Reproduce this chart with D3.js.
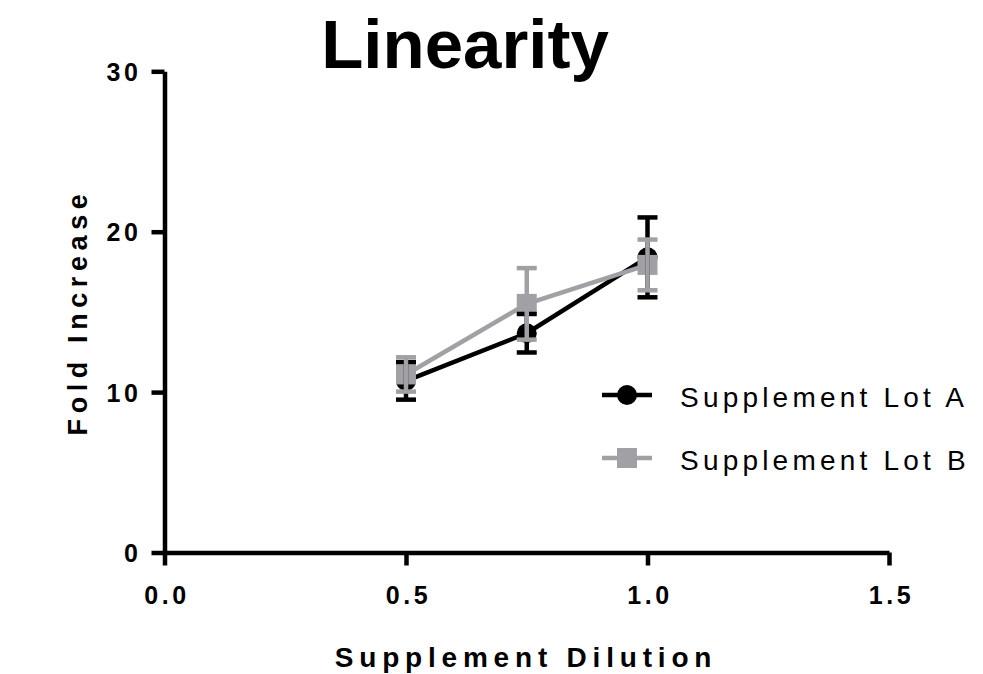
<!DOCTYPE html>
<html>
<head>
<meta charset="utf-8">
<script src="https://cdn.jsdelivr.net/npm/d3@7"></script>
<style>
  body { margin: 0; background: #fff; }
  text { font-family: "Liberation Sans", Arial, sans-serif; }
</style>
</head>
<body>
<div id="chart"></div>
<script>
// data
var dilutions = [0.5, 0.75, 1.0];
var lotA = [10.7, 13.67, 18.4];
var lotAErr = [1.17, 1.2, 2.49];
var lotB = [11.1, 15.5, 17.93];
var lotBErr = [1.07, 2.23, 1.58];
var seriesNames = ["Supplement Lot A", "Supplement Lot B"];
var xTicks = [0, 0.5, 1.0, 1.5];
var yTicks = [0, 10, 20, 30];

var W = 983, H = 674;
var black = "#000", grey = "#a1a1a5";

var svg = d3.select("#chart")
    .append("svg")
    .attr("width", W)
    .attr("height", H);

var x = d3.scaleLinear().domain([0, 1.5]).range([164.5, 889]);
var y = d3.scaleLinear().domain([0, 30]).range([552.5, 71.3]);

// axes
var xAxis = svg.append("g")
    .attr("transform", "translate(0," + y(0) + ")")
    .call(d3.axisBottom(x).tickValues(xTicks).tickFormat(d3.format(".1f"))
        .tickSize(13).tickSizeOuter(0).tickPadding(21));
var yAxis = svg.append("g")
    .attr("transform", "translate(" + x(0) + ",0)")
    .call(d3.axisLeft(y).tickValues(yTicks).tickFormat(d3.format("d"))
        .tickSize(13).tickSizeOuter(0).tickPadding(10));

[xAxis, yAxis].forEach(function (g) {
    g.select(".domain").attr("stroke", black).attr("stroke-width", 4.5);
    g.selectAll(".tick line").attr("stroke", black).attr("stroke-width", 4.5);
    g.selectAll(".tick text")
        .attr("fill", black)
        .style("font-size", "25px")
        .style("font-weight", "bold")
        .style("letter-spacing", "3.6px");
});
xAxis.selectAll(".tick text").attr("dy", "0.71em").attr("dx", "2px");
yAxis.selectAll(".tick text").attr("dy", "0.36em");

// titles
svg.append("text")
    .attr("x", 465).attr("y", 68)
    .attr("text-anchor", "middle")
    .style("font-size", "69px").style("font-weight", "bold")
    .text("Linearity");

svg.append("text")
    .attr("x", 526).attr("y", 667)
    .attr("text-anchor", "middle")
    .style("font-size", "28px").style("font-weight", "bold")
    .style("letter-spacing", "5.8px")
    .text("Supplement Dilution");

svg.append("text")
    .attr("transform", "translate(87,312) rotate(-90)")
    .attr("text-anchor", "middle")
    .style("font-size", "27px").style("font-weight", "bold")
    .style("letter-spacing", "5.6px")
    .text("Fold Increase");

// series
function rows(vals, errs) {
    return dilutions.map(function (d, i) {
        return { x: d, y: vals[i], e: errs[i] };
    });
}
var dataA = rows(lotA, lotAErr);
var dataB = rows(lotB, lotBErr);

var line = d3.line().x(d => x(d.x)).y(d => y(d.y));

svg.append("path").datum(dataA)
    .attr("d", line).attr("fill", "none")
    .attr("stroke", black).attr("stroke-width", 4.5);
svg.append("path").datum(dataB)
    .attr("d", line).attr("fill", "none")
    .attr("stroke", grey).attr("stroke-width", 4.5);

svg.selectAll(".dotA").data(dataA).enter()
    .append("circle")
    .attr("cx", d => x(d.x)).attr("cy", d => y(d.y))
    .attr("r", 10).attr("fill", black);

svg.selectAll(".sqB").data(dataB).enter()
    .append("rect")
    .attr("x", d => x(d.x) - 10).attr("y", d => y(d.y) - 10)
    .attr("width", 20).attr("height", 20).attr("fill", grey);

function errorBars(data, color) {
    var g = svg.append("g").attr("stroke", color).attr("stroke-width", 4.5);
    g.selectAll(".v").data(data).enter().append("line")
        .attr("x1", d => x(d.x)).attr("x2", d => x(d.x))
        .attr("y1", d => y(d.y + d.e)).attr("y2", d => y(d.y - d.e));
    g.selectAll(".t").data(data).enter().append("line")
        .attr("x1", d => x(d.x) - 10).attr("x2", d => x(d.x) + 10)
        .attr("y1", d => y(d.y + d.e)).attr("y2", d => y(d.y + d.e));
    g.selectAll(".b").data(data).enter().append("line")
        .attr("x1", d => x(d.x) - 10).attr("x2", d => x(d.x) + 10)
        .attr("y1", d => y(d.y - d.e)).attr("y2", d => y(d.y - d.e));
}
errorBars(dataA, black);
errorBars(dataB, grey);

// legend
var legend = svg.selectAll(".legend")
    .data(seriesNames).enter()
    .append("g")
    .attr("class", "legend")
    .attr("transform", (d, i) => "translate(0," + (395 + i * 63) + ")");

legend.append("line")
    .attr("x1", 602).attr("x2", 652)
    .attr("stroke", (d, i) => i ? grey : black)
    .attr("stroke-width", 4.5);
legend.filter((d, i) => i === 0).append("circle")
    .attr("cx", 627).attr("r", 10).attr("fill", black);
legend.filter((d, i) => i === 1).append("rect")
    .attr("x", 617).attr("y", -10).attr("width", 20).attr("height", 20)
    .attr("fill", grey);
legend.append("text")
    .attr("x", 680).attr("y", 12)
    .style("font-size", "28px")
    .style("letter-spacing", "4.2px")
    .attr("fill", black)
    .text(d => d);
</script>
</body>
</html>
